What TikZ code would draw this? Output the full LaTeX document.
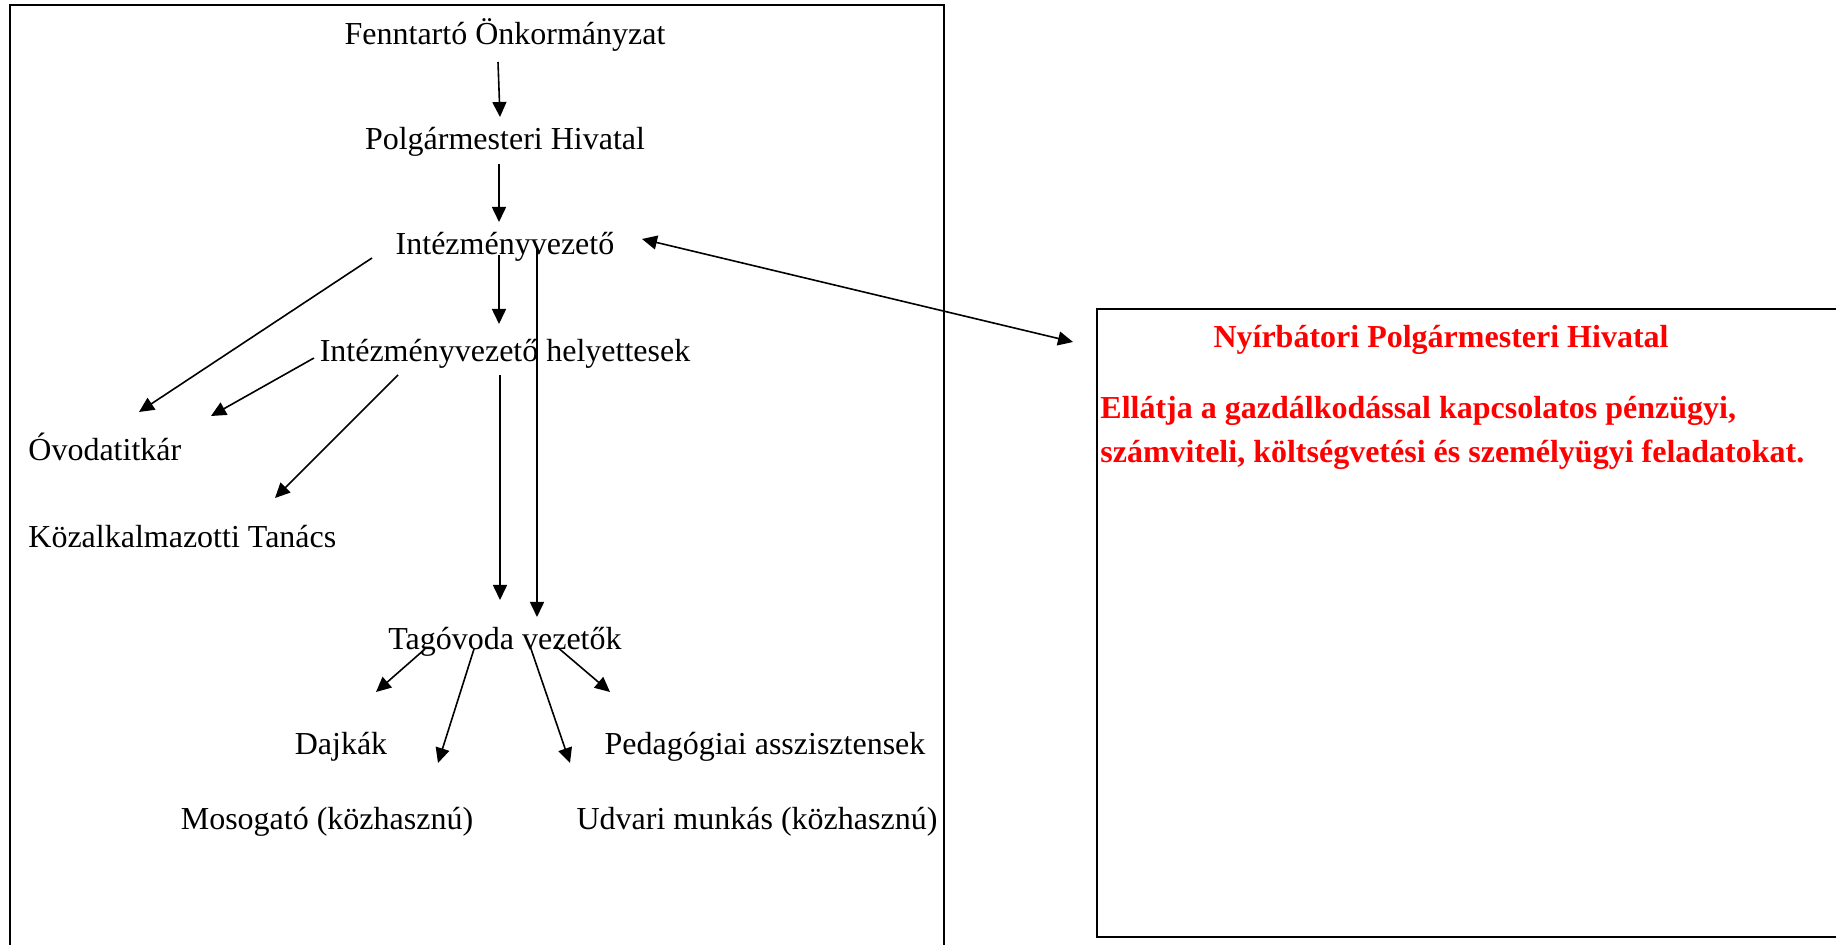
\documentclass[tikz,border=0pt]{standalone}
\usepackage{fontspec}
\setmainfont{Liberation Serif}
\usetikzlibrary{arrows.meta,calc}
\definecolor{ofRed}{RGB}{255,0,0}

\begin{document}
\begin{tikzpicture}[x=0.5pt,y=-0.5pt,
  >={Triangle[length=7.5pt,width=7pt]},
  unit/.style={inner sep=0pt,font=\fontsize{16}{19}\selectfont},
  office/.style={inner sep=0pt,text=ofRed,align=left,
               font=\fontsize{16}{22}\selectfont\bfseries},
  link/.style={->,line width=0.8pt},
  frame/.style={draw,line width=1pt},
]
\clip (0,0) rectangle (1836,945);
% left frame and right frame
\draw[frame] (10,5) rectangle (944,990);
\coordinate (rbox) at (1097,309);
\draw[frame] (rbox) rectangle (1870,937);

\node[unit] (ft) at (505,35) {Fenntartó Önkormányzat};
\node[unit] (ph) at (505,142) {Polgármesteri Hivatal};
\node[unit] (iv) at (505,247) {Intézményvezető};
\node[unit] (ih) at (505,354) {Intézményvezető helyettesek};
\node[unit,anchor=west] (ot) at (28,447) {Óvodatitkár};
\node[unit,anchor=west] (kt) at (28,537) {Közalkalmazotti Tanács};
\node[unit] (tv) at (505,642) {Tagóvoda vezetők};
\node[unit] (dk) at (341,747) {Dajkák};
\node[unit] (pa) at (765,747) {Pedagógiai asszisztensek};
\node[unit] (mo) at (327,822) {Mosogató (közhasznú)};
\node[unit] (ud) at (757,822) {Udvari munkás (közhasznú)};

\node[office] (nyh) at (1441,340) {Nyírbátori Polgármesteri Hivatal};
\node[office,anchor=west] (task) at (1100,433)
   {Ellátja a gazdálkodással kapcsolatos pénzügyi,\\
    számviteli, költségvetési és személyügyi feladatokat.};

\draw[link] ($(ft)+(-7,27)$) -- ($(ph)+(-5,-25)$);
\draw[link] ($(ph)+(-6,22)$) -- ($(iv)+(-6,-25)$);
\draw[link] ($(iv)+(-6,8)$) -- ($(ih)+(-6,-30)$);
\draw[link] ($(iv)+(32,2)$) -- ($(tv)+(32,-25)$);
\draw[link] ($(ih)+(-5,21)$) -- ($(tv)+(-5,-42)$);
\draw[link] ($(iv)+(-133,11)$) -- ($(ot.west)+(111,-35)$);
\draw[link] ($(ih)+(-191,4)$) -- ($(ot.west)+(183,-31)$);
\draw[link] ($(ih)+(-107,21)$) -- ($(kt.west)+(247,-39)$);
\draw[link] ($(tv)+(-80,7)$) -- ($(dk)+(35,-55)$);
\draw[link] ($(tv)+(-31,7)$) -- ($(mo)+(111,-59)$);
\draw[link] ($(tv)+(25,4)$) -- ($(ud)+(-187,-59)$);
\draw[link] ($(tv)+(51,4)$) -- ($(pa)+(-155,-55)$);
\draw[link,<->] ($(iv)+(137,-8)$) -- ($(rbox)+(-24,33)$);
\end{tikzpicture}
\end{document}
